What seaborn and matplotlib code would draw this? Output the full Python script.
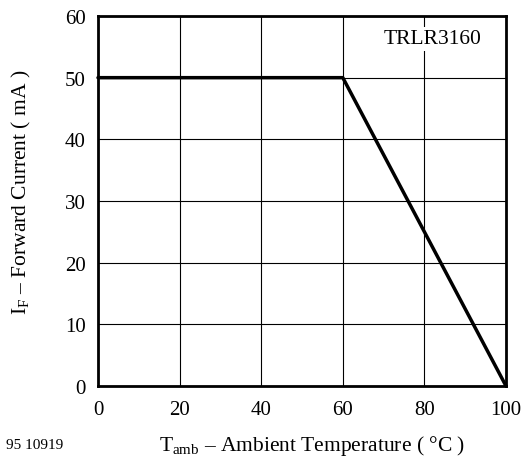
import matplotlib
matplotlib.use("Agg")
import matplotlib.pyplot as plt
import seaborn as sns
import pandas as pd

temperature = [0, 60, 100]
current = [50, 50, 0]
x_ticks = [0, 20, 40, 60, 80, 100]
y_ticks = [0, 10, 20, 30, 40, 50, 60]

sns.set_theme(style="white")
plt.rcParams['font.family'] = ['Liberation Serif', 'DejaVu Serif']
plt.rcParams['mathtext.fontset'] = 'custom'
plt.rcParams['mathtext.rm'] = 'Liberation Serif'
plt.rcParams['mathtext.it'] = 'Liberation Serif'

df = pd.DataFrame({"T": temperature, "I": current})

fig = plt.figure(figsize=(5.24, 4.6), dpi=100)
ax = fig.add_axes([98/524, (460-387)/460, (506-98)/524, (387-17)/460])

ax.set_xlim(0, 100)
ax.set_ylim(0, 60)
ax.set_xticks(x_ticks)
ax.set_yticks(y_ticks)
ax.grid(True, color="black", linewidth=0.8)
ax.set_axisbelow(True)

sns.lineplot(data=df, x="T", y="I", ax=ax, color="black", linewidth=2.5, zorder=3, clip_on=False)

for s in ax.spines.values():
    s.set_linewidth(2)
    s.set_color("black")

ax.tick_params(axis="both", length=0, labelsize=15, colors="black")
ax.tick_params(axis="x", pad=10)
ax.tick_params(axis="y", pad=9)

ax.set_xlabel(r"$\mathregular{T_{amb}}$ – Ambient Temperature ( °C )", fontsize=15.5, color="black")
ax.set_ylabel(r"$\mathregular{I_F}$ – Forward Current ( mA )", fontsize=15.5, color="black")
ax.xaxis.set_label_coords((312-98)/408, -(446-387)/370)
ax.xaxis.label.set_va("center")
ax.yaxis.set_label_coords(-(98-21)/408, (387-192)/370)
ax.yaxis.label.set_va("center")

ax.text(82, 56.3, "TRLR3160", fontsize=15.5, ha="center", va="center", color="black",
        bbox=dict(facecolor="white", edgecolor="none", pad=2), zorder=4)

fig.text(6/524, 1-446/460, "95 10919", fontsize=11, ha="left", va="center", color="black")

fig.savefig("out.png", dpi=100)
